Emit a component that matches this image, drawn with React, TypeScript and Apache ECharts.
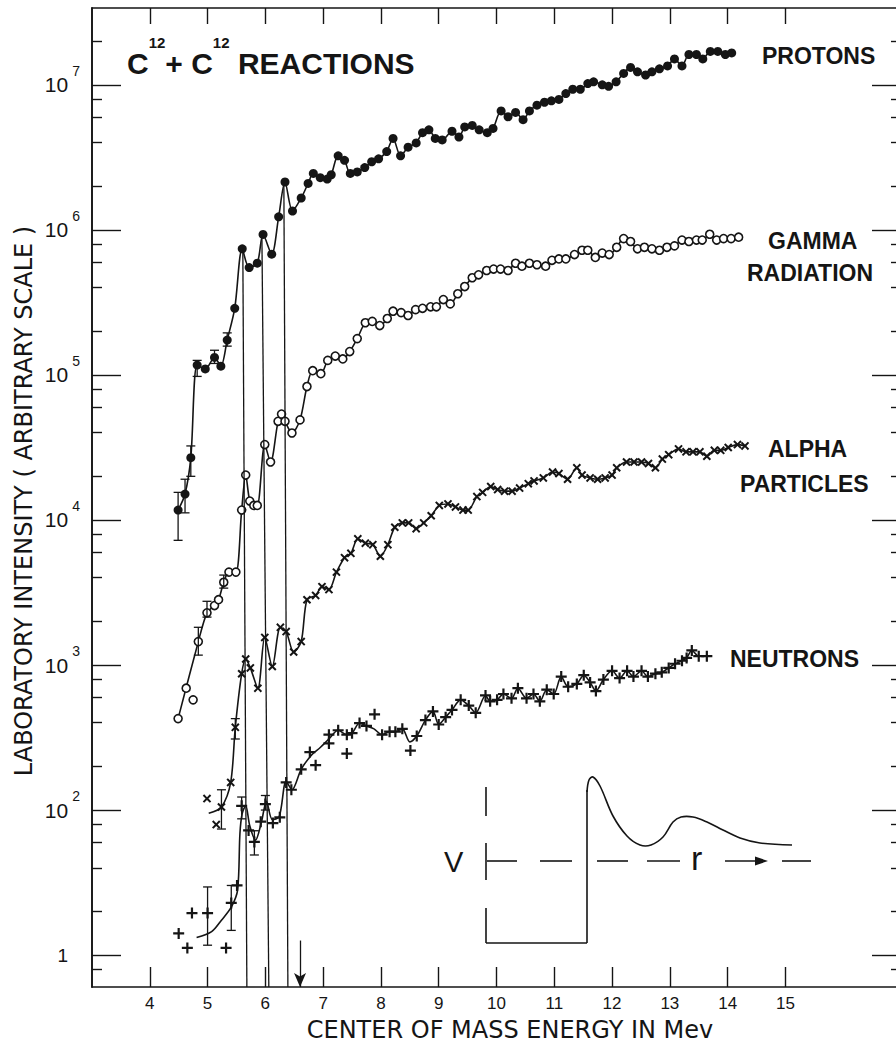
import React, { useEffect, useRef } from "react";
import * as echarts from "echarts";

const FONT = "'Liberation Sans', Arial, sans-serif";
const WIDE = "'DejaVu Sans', 'Liberation Sans', sans-serif";
const INK = "#151515";

// ---- axes ----
const energyTicks = [4, 5, 6, 7, 8, 9, 10, 11, 12, 13, 14, 15];
const decadeExponents = [1, 2, 3, 4, 5, 6, 7];
const minorMultipliers = [2, 4, 6, 8];
const energyRange = [3, 17];
const logRange = [0.78, 7.53];

// ---- data: [energy MeV, intensity] ----
const protons: [number, number][] = [
  [4.49, 1.17e4], [4.61, 1.51e4], [4.71, 2.69e4], [4.82, 1.17e5], [4.96, 1.1e5], [5.12, 1.32e5],
  [5.23, 1.15e5], [5.34, 1.74e5], [5.47, 2.88e5], [5.6, 7.4e5], [5.72, 5.5e5], [5.86, 5.9e5],
  [5.96, 9.3e5], [6.11, 6.8e5], [6.23, 1.23e6], [6.34, 2.14e6], [6.47, 1.35e6], [6.62, 1.66e6],
  [6.74, 2.09e6], [6.83, 2.45e6], [6.95, 2.29e6], [7.07, 2.24e6], [7.14, 2.4e6], [7.26, 3.24e6],
  [7.37, 3.02e6], [7.47, 2.45e6], [7.59, 2.51e6], [7.72, 2.69e6], [7.84, 2.95e6], [7.96, 3.09e6],
  [8.1, 3.47e6], [8.21, 4.27e6], [8.34, 3.24e6], [8.47, 3.72e6], [8.61, 3.98e6], [8.72, 4.68e6],
  [8.83, 4.9e6], [8.94, 4.27e6], [9.06, 4.17e6], [9.23, 4.79e6], [9.35, 4.37e6], [9.45, 5.13e6],
  [9.58, 5.25e6], [9.7, 4.9e6], [9.84, 4.68e6], [9.94, 5.01e6], [10.08, 6.61e6], [10.2, 6.03e6],
  [10.33, 6.46e6], [10.46, 5.75e6], [10.57, 6.61e6], [10.7, 7.24e6], [10.83, 7.59e6], [10.95, 7.76e6],
  [11.08, 7.94e6], [11.2, 8.71e6], [11.32, 9.33e6], [11.45, 9.33e6], [11.58, 1.02e7], [11.68, 1.05e7],
  [11.83, 1.0e7], [11.94, 9.77e6], [12.07, 1.05e7], [12.2, 1.2e7], [12.32, 1.32e7], [12.44, 1.23e7],
  [12.58, 1.17e7], [12.69, 1.23e7], [12.82, 1.29e7], [12.96, 1.35e7], [13.08, 1.51e7], [13.21, 1.35e7],
  [13.33, 1.62e7], [13.46, 1.62e7], [13.57, 1.51e7], [13.7, 1.7e7], [13.83, 1.7e7], [13.96, 1.62e7],
  [14.07, 1.66e7],
];

const gamma: [number, number][] = [
  [4.49, 427], [4.84, 1450], [4.99, 2290], [5.12, 2570], [5.19, 2820], [5.28, 3720], [5.37, 4370],
  [5.49, 4370], [5.59, 1.17e4], [5.66, 2.04e4], [5.73, 1.35e4], [5.8, 1.26e4], [5.86, 1.26e4],
  [5.99, 3.31e4], [6.09, 2.51e4], [6.22, 4.79e4], [6.28, 5.37e4], [6.34, 4.79e4], [6.46, 3.98e4],
  [6.6, 4.9e4], [6.72, 8.32e4], [6.82, 1.07e5], [6.96, 1.02e5], [7.08, 1.26e5], [7.21, 1.35e5],
  [7.34, 1.29e5], [7.46, 1.45e5], [7.59, 1.78e5], [7.73, 2.29e5], [7.85, 2.34e5], [7.98, 2.19e5],
  [8.11, 2.45e5], [8.21, 2.75e5], [8.35, 2.69e5], [8.47, 2.57e5], [8.6, 2.82e5], [8.72, 2.88e5],
  [8.86, 2.95e5], [8.96, 2.95e5], [9.08, 3.31e5], [9.2, 3.09e5], [9.33, 3.63e5], [9.45, 4.07e5],
  [9.58, 4.68e5], [9.69, 4.9e5], [9.83, 5.25e5], [9.95, 5.37e5], [10.07, 5.37e5], [10.2, 5.25e5],
  [10.33, 5.89e5], [10.44, 5.62e5], [10.57, 5.89e5], [10.7, 5.75e5], [10.85, 5.62e5], [10.96, 6.17e5],
  [11.08, 6.31e5], [11.2, 6.31e5], [11.35, 6.76e5], [11.48, 7.24e5], [11.58, 7.24e5], [11.71, 6.46e5],
  [11.83, 6.92e5], [11.95, 6.76e5], [12.08, 7.59e5], [12.2, 8.71e5], [12.32, 8.32e5], [12.44, 7.41e5],
  [12.56, 7.59e5], [12.69, 7.41e5], [12.82, 7.24e5], [12.95, 7.59e5], [13.08, 7.76e5], [13.21, 8.51e5],
  [13.33, 8.32e5], [13.46, 8.51e5], [13.56, 8.51e5], [13.69, 9.33e5], [13.81, 8.51e5], [13.93, 8.71e5],
  [14.06, 8.71e5], [14.19, 8.91e5],
];
const gammaOffCurve: [number, number][] = [[4.63, 692], [4.75, 575]];

const alpha: [number, number][] = [
  [5.24, 105], [5.4, 155], [5.48, 372], [5.59, 871], [5.66, 1100], [5.74, 955], [5.87, 692],
  [5.99, 1550], [6.12, 977], [6.26, 1820], [6.36, 1700], [6.49, 1230], [6.62, 1450], [6.72, 2820],
  [6.87, 3020], [6.98, 3470], [7.1, 3310], [7.23, 4370], [7.37, 5500], [7.48, 5890], [7.6, 7410],
  [7.73, 6920], [7.86, 6760], [7.99, 5620], [8.12, 6760], [8.24, 8910], [8.37, 9550], [8.48, 9550],
  [8.61, 8710], [8.74, 9550], [8.87, 1.07e4], [9.01, 1.26e4], [9.16, 1.29e4], [9.29, 1.23e4],
  [9.42, 1.17e4], [9.51, 1.17e4], [9.66, 1.45e4], [9.76, 1.55e4], [9.9, 1.7e4], [10.02, 1.62e4],
  [10.14, 1.58e4], [10.27, 1.58e4], [10.4, 1.66e4], [10.55, 1.78e4], [10.65, 1.86e4], [10.81, 1.95e4],
  [10.97, 2.14e4], [11.08, 2.09e4], [11.23, 1.91e4], [11.39, 2.29e4], [11.48, 2.04e4], [11.62, 1.95e4],
  [11.75, 1.91e4], [11.88, 1.95e4], [12.0, 2.04e4], [12.08, 2.29e4], [12.25, 2.51e4], [12.38, 2.51e4],
  [12.51, 2.51e4], [12.63, 2.45e4], [12.75, 2.29e4], [12.87, 2.63e4], [12.98, 2.82e4], [13.15, 3.09e4],
  [13.28, 2.95e4], [13.4, 2.95e4], [13.52, 2.95e4], [13.64, 2.75e4], [13.77, 3.02e4], [13.88, 3.02e4],
  [14.01, 3.16e4], [14.17, 3.31e4], [14.3, 3.24e4],
];
const alphaCurveStart: [number, number][] = [[5.02, 95]];
const alphaOffCurve: [number, number][] = [[4.99, 120], [5.15, 79.4]];

const neutronPoints: [number, number][] = [
  [4.5, 14.1], [4.65, 11.2], [4.73, 19.5], [5.0, 19.5], [5.32, 11.2], [5.41, 22.9], [5.51, 30.2],
  [5.59, 107], [5.71, 72.4], [5.81, 60.3], [5.92, 83.2], [6.0, 110], [6.13, 81.3], [6.25, 89.1],
  [6.36, 155], [6.45, 138], [6.62, 191], [6.77, 251], [6.87, 204], [7.1, 288], [7.1, 331], [7.26, 355],
  [7.41, 331], [7.41, 245], [7.5, 339], [7.63, 398], [7.75, 380], [7.89, 457], [8.02, 331], [8.15, 347],
  [8.25, 347], [8.37, 363], [8.51, 257], [8.62, 324], [8.77, 417], [8.9, 479], [9.0, 389], [9.12, 437],
  [9.23, 490], [9.38, 575], [9.52, 525], [9.64, 468], [9.81, 617], [9.89, 562], [10.01, 575],
  [10.12, 631], [10.26, 589], [10.37, 692], [10.52, 589], [10.64, 631], [10.75, 562], [10.87, 676],
  [10.99, 631], [11.12, 832], [11.24, 708], [11.39, 741], [11.51, 851], [11.62, 759], [11.72, 661],
  [11.85, 794], [12.0, 912], [12.13, 813], [12.26, 912], [12.37, 832], [12.51, 912], [12.62, 832],
  [12.75, 871], [12.86, 891], [12.98, 955], [13.09, 1020], [13.21, 1070], [13.29, 1120], [13.38, 1260],
  [13.5, 1150], [13.64, 1150],
];
const neutronCurve: [number, number][] = [
  [4.81, 13.2], [5.07, 14.5], [5.24, 17.4], [5.41, 21.4], [5.52, 28.2], [5.56, 69], [5.6, 95],
  [5.66, 107], [5.73, 78], [5.83, 62], [5.93, 82], [6.02, 115], [6.12, 86], [6.24, 90], [6.36, 158],
  [6.46, 138], [6.62, 191], [6.8, 240], [6.95, 270], [7.1, 309], [7.26, 355], [7.41, 331], [7.5, 339],
  [7.63, 398], [7.75, 380], [7.88, 363], [8.02, 331], [8.15, 347], [8.25, 347], [8.37, 363],
  [8.5, 295], [8.62, 324], [8.77, 417], [8.9, 479], [9.0, 389], [9.12, 437], [9.23, 490], [9.38, 575],
  [9.52, 525], [9.64, 468], [9.81, 617], [9.89, 562], [10.01, 575], [10.12, 631], [10.26, 589],
  [10.37, 692], [10.52, 589], [10.64, 631], [10.75, 562], [10.87, 676], [10.99, 631], [11.12, 832],
  [11.24, 708], [11.39, 741], [11.51, 851], [11.62, 759], [11.72, 661], [11.85, 794], [12.0, 912],
  [12.13, 813], [12.26, 912], [12.37, 832], [12.51, 912], [12.62, 832], [12.75, 871], [12.86, 891],
  [12.98, 955], [13.09, 1020], [13.21, 1070], [13.29, 1120], [13.38, 1260], [13.5, 1150], [13.64, 1150],
];

// error bars: [energy, low, high]
const errorBars: [number, number, number][] = [
  [4.49, 7240, 15500], [4.61, 11200, 19100], [4.71, 20000, 32400], [4.82, 97700, 126000],
  [5.12, 120000, 148000], [5.34, 158000, 195000],
  [4.84, 1170, 1820], [4.99, 2140, 2750], [5.28, 3390, 4170],
  [5.24, 74, 138], [5.48, 309, 427],
  [5.0, 11.7, 29.5], [5.41, 14.8, 30.2], [5.59, 87, 123], [5.81, 49, 72], [6.0, 100, 126],
];

// resonance guide lines: top (energy, intensity) -> bottom energy
const resonanceTopE = [5.61, 5.94, 6.32];
const resonanceTopI = [7.4e5, 9.3e5, 2.14e6];
const resonanceBottomE = [5.68, 6.06, 6.39];
const arrowE = 6.6;
const arrowTopI = 12.6;

const lg = (p: [number, number]) => [p[0], Math.log10(p[1])];

const PLUS = "path://M4,0H6V4H10V6H6V10H4V6H0V4H4Z";

export default function App() {
  const ref = useRef<HTMLDivElement>(null);
  useEffect(() => {
    if (!ref.current) return;
    const chart = echarts.init(ref.current, null, { renderer: "svg" });

    const minorVals: number[] = [];
    for (let n = 0; n <= 7; n++) {
      for (const m of minorMultipliers) {
        const v = Math.log10(m * Math.pow(10, n));
        if (v > logRange[0] && v < logRange[1]) minorVals.push(v);
      }
    }
    const line = { color: INK, width: 1.6 };
    const tickStyle = { color: INK, width: 1.4 };
    const baseY = {
      type: "value",
      min: logRange[0],
      max: logRange[1],
      splitLine: { show: false },
      axisLine: { show: true, onZero: false, lineStyle: line },
    };
    const yAxes = [
      {
        ...baseY,
        position: "left",
        axisTick: { show: true, inside: true, length: 29, customValues: decadeExponents, lineStyle: tickStyle },
        axisLabel: {
          show: true,
          customValues: decadeExponents,
          margin: 12,
          formatter: (v: number) => {
            const k = Math.round(v);
            return k === 1 ? "{one|1}" : `{b|10}{e|${k}}`;
          },
          rich: {
            one: { fontSize: 19, fontFamily: FONT, color: INK, padding: [0, 12, 0, 0] },
            b: { fontSize: 21, fontFamily: FONT, color: INK, lineHeight: 42 },
            e: { fontSize: 14, fontFamily: FONT, color: INK, lineHeight: 15, verticalAlign: "top", padding: [0, 0, 0, 4] },
          },
        },
      },
      {
        ...baseY,
        position: "left",
        axisTick: { show: true, inside: true, length: 10, customValues: minorVals, lineStyle: tickStyle },
        axisLabel: { show: false },
      },
      {
        ...baseY,
        position: "right",
        axisTick: { show: true, inside: true, length: 29, customValues: decadeExponents, lineStyle: tickStyle },
        axisLabel: { show: false },
      },
      {
        ...baseY,
        position: "right",
        axisTick: { show: true, inside: true, length: 10, customValues: minorVals, lineStyle: tickStyle },
        axisLabel: { show: false },
      },
    ];
    const baseX = {
      type: "value",
      min: energyRange[0],
      max: energyRange[1],
      splitLine: { show: false },
      axisLine: { show: true, onZero: false, lineStyle: line },
    };
    const xAxes = [
      {
        ...baseX,
        position: "bottom",
        axisTick: { show: true, inside: true, length: 20, customValues: energyTicks, lineStyle: tickStyle },
        axisLabel: { show: true, customValues: energyTicks, fontSize: 17, fontFamily: FONT, color: INK, margin: 8 },
      },
      {
        ...baseX,
        position: "top",
        axisTick: { show: true, inside: true, length: 16, customValues: energyTicks, lineStyle: tickStyle },
        axisLabel: { show: false },
      },
    ];

    const curveLine = { color: INK, width: 1.6 };
    const guideLines = resonanceTopE.map((e, i) => [
      { coord: [e, Math.log10(resonanceTopI[i])] },
      { coord: [resonanceBottomE[i], logRange[0]] },
    ]);
    const solid = { color: INK, opacity: 1 };

    const series: any[] = [
      {
        type: "line",
        name: "Protons",
        data: protons.map(lg),
        smooth: 0.3,
        symbol: "circle",
        symbolSize: 9,
        itemStyle: solid,
        lineStyle: curveLine,
        z: 4,
        markLine: {
          silent: true,
          symbol: "none",
          label: { show: false },
          lineStyle: { color: INK, width: 1.3, type: "solid" },
          data: guideLines,
        },
      },
      {
        type: "line",
        name: "Gamma radiation",
        data: gamma.map(lg),
        smooth: 0.3,
        symbol: "circle",
        symbolSize: 8,
        itemStyle: { color: "#fff", borderColor: INK, borderWidth: 1.6, opacity: 1 },
        lineStyle: curveLine,
        z: 4,
        markLine: {
          silent: true,
          symbol: ["none", "arrow"],
          symbolSize: [9, 14],
          label: { show: false },
          lineStyle: { color: INK, width: 1.3, type: "solid" },
          data: [[{ coord: [arrowE, Math.log10(arrowTopI)] }, { coord: [arrowE, logRange[0]] }]],
        },
      },
      {
        type: "scatter",
        name: "Gamma radiation (off curve)",
        data: gammaOffCurve.map(lg),
        symbol: "circle",
        symbolSize: 8,
        itemStyle: { color: "#fff", borderColor: INK, borderWidth: 1.6, opacity: 1 },
        z: 4,
      },
      {
        type: "line",
        name: "Alpha particles",
        data: [...alphaCurveStart.map((p) => ({ value: lg(p), symbol: "none" })), ...alpha.map(lg)],
        smooth: 0.3,
        symbol: PLUS,
        symbolRotate: 45,
        symbolSize: 10,
        symbolKeepAspect: true,
        itemStyle: solid,
        lineStyle: curveLine,
        z: 4,
      },
      {
        type: "scatter",
        name: "Alpha particles (off curve)",
        data: alphaOffCurve.map(lg),
        symbol: PLUS,
        symbolRotate: 45,
        symbolSize: 10,
        itemStyle: solid,
        z: 4,
      },
      {
        type: "line",
        name: "Neutrons curve",
        data: neutronCurve.map(lg),
        smooth: 0.3,
        showSymbol: false,
        symbol: "none",
        lineStyle: curveLine,
        z: 3,
      },
      {
        type: "scatter",
        name: "Neutrons",
        data: neutronPoints.map(lg),
        symbol: PLUS,
        symbolSize: 11,
        itemStyle: solid,
        z: 4,
      },
      {
        type: "custom",
        name: "Error bars",
        data: errorBars.map(([e, lo, hi]) => [e, Math.log10(lo), Math.log10(hi)]),
        encode: { x: 0, y: [1, 2] },
        z: 5,
        renderItem: (params: any, api: any) => {
          const a = api.coord([api.value(0), api.value(1)]);
          const b = api.coord([api.value(0), api.value(2)]);
          const w = 4.5;
          const st = { stroke: INK, lineWidth: 1.3 };
          return {
            type: "group",
            children: [
              { type: "line", shape: { x1: a[0], y1: a[1], x2: b[0], y2: b[1] }, style: st },
              { type: "line", shape: { x1: a[0] - w, y1: a[1], x2: a[0] + w, y2: a[1] }, style: st },
              { type: "line", shape: { x1: b[0] - w, y1: b[1], x2: b[0] + w, y2: b[1] }, style: st },
            ],
          };
        },
      },
    ];

    const txt = (text: string, x: number, y: number, size: number, extra: any = {}) => ({
      type: "text",
      x,
      y,
      silent: true,
      style: {
        text,
        fontSize: size,
        fontFamily: FONT,
        fontWeight: "bold",
        fill: INK,
        align: "left",
        verticalAlign: "middle",
        textAlign: "left",
        textVerticalAlign: "middle",
        ...extra,
      },
    });
    const seg = (x1: number, y1: number, x2: number, y2: number) => ({
      type: "line",
      silent: true,
      shape: { x1, y1, x2, y2 },
      style: { stroke: INK, lineWidth: 1.6 },
    });

    const graphic: any[] = [
      {
        type: "text",
        x: 127,
        y: 63,
        silent: true,
        style: {
          text: "{c|C}{s|12}{p|+}{c| C}{s|12}{r| REACTIONS}",
          fill: INK,
          align: "left",
          verticalAlign: "middle",
          textAlign: "left",
          textVerticalAlign: "middle",
          rich: {
            c: { fontSize: 30, fontFamily: FONT, fontWeight: "bold", fill: INK, lineHeight: 56 },
            p: { fontSize: 30, fontFamily: FONT, fontWeight: "bold", fill: INK, lineHeight: 56 },
            s: { fontSize: 15, fontFamily: FONT, fontWeight: "bold", fill: INK, lineHeight: 15, verticalAlign: "top" },
            r: { fontSize: 30, fontFamily: FONT, fontWeight: "bold", fill: INK, lineHeight: 56 },
          },
        },
      },
      txt("PROTONS", 762, 56, 23),
      txt("GAMMA", 768, 241, 23),
      txt("RADIATION", 747, 273, 23),
      txt("ALPHA", 768, 449, 23),
      txt("PARTICLES", 740, 484, 23),
      txt("NEUTRONS", 730, 659, 23),
      {
        type: "text",
        x: 24,
        y: 501,
        rotation: Math.PI / 2,
        silent: true,
        style: {
          text: "LABORATORY INTENSITY ( ARBITRARY SCALE )",
          fontSize: 24,
          fontFamily: WIDE,
          fill: INK,
          align: "center",
          verticalAlign: "middle",
          textAlign: "center",
          textVerticalAlign: "middle",
        },
      },
      {
        type: "text",
        x: 510,
        y: 1030,
        silent: true,
        style: {
          text: "CENTER OF MASS ENERGY IN Mev",
          fontSize: 24,
          fontFamily: WIDE,
          fill: INK,
          align: "center",
          verticalAlign: "middle",
          textAlign: "center",
          textVerticalAlign: "middle",
        },
      },
      // inset: potential V(r)
      seg(486, 787, 486, 816),
      seg(486, 843, 486, 880),
      seg(486, 908, 486, 943),
      seg(486, 943, 587, 943),
      seg(587, 943, 587, 790),
      {
        type: "polyline",
        silent: true,
        shape: {
          points: [
            [587, 792], [589, 780], [593, 777], [600, 786], [613, 816], [627, 836], [640, 845],
            [651, 845], [663, 837], [673, 822], [681, 817], [693, 817], [707, 822], [723, 830],
            [740, 838], [760, 843], [792, 845],
          ],
          smooth: 0.35,
        },
        style: { stroke: INK, lineWidth: 1.6, fill: null },
      },
      seg(487, 861, 517, 861),
      seg(540, 861, 572, 861),
      seg(597, 861, 628, 861),
      seg(647, 861, 680, 861),
      seg(725, 861, 760, 861),
      seg(782, 861, 811, 861),
      {
        type: "polygon",
        silent: true,
        shape: { points: [[768, 861], [755, 856.5], [755, 865.5]] },
        style: { fill: INK },
      },
      txt("V", 444, 862, 29, { fontWeight: "normal" }),
      txt("r", 691, 858, 34, { fontWeight: "normal" }),
    ];

    chart.setOption({
      animation: false,
      backgroundColor: "#ffffff",
      grid: { left: 92, right: -5, top: 8, bottom: 61, containLabel: false, outerBoundsMode: "none" },
      xAxis: xAxes,
      yAxis: yAxes,
      series,
      graphic,
    } as any);
    return () => chart.dispose();
  }, []);
  return (
    <div
      ref={ref}
      style={{ position: "fixed", left: 0, top: 0, width: 896, height: 1048, background: "#fff" }}
    />
  );
}
